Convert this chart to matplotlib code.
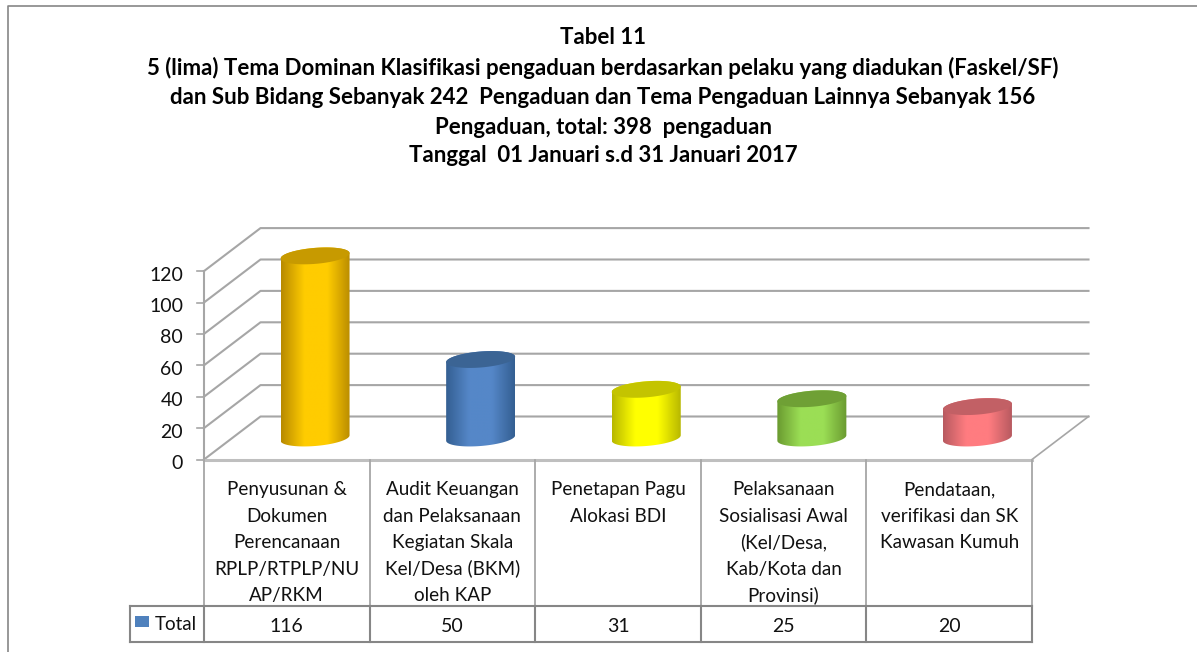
import numpy as np
import matplotlib
matplotlib.use('Agg')
import matplotlib.pyplot as plt
from matplotlib.colors import LinearSegmentedColormap
from matplotlib.patches import Polygon, Rectangle

title_lines = [
    'Tabel 11',
    '5 (lima) Tema Dominan Klasifikasi pengaduan berdasarkan pelaku yang diadukan (Faskel/SF)',
    'dan Sub Bidang Sebanyak 242  Pengaduan dan Tema Pengaduan Lainnya Sebanyak 156',
    'Pengaduan, total: 398  pengaduan',
    'Tanggal  01 Januari s.d 31 Januari 2017',
]
categories = [
    'Penyusunan &\nDokumen\nPerencanaan\nRPLP/RTPLP/NU\nAP/RKM',
    'Audit Keuangan\ndan Pelaksanaan\nKegiatan Skala\nKel/Desa (BKM)\noleh KAP',
    'Penetapan Pagu\nAlokasi BDI',
    'Pelaksanaan\nSosialisasi Awal\n(Kel/Desa,\nKab/Kota dan\nProvinsi)',
    'Pendataan,\nverifikasi dan SK\nKawasan Kumuh',
]
values = [116, 50, 31, 25, 20]
y_ticks = [0, 20, 40, 60, 80, 100, 120]
# dark edge, mid, top face
colors = [
    ('#B88A00', '#FFCC00', '#C79A00'),
    ('#345F92', '#5587C8', '#3B6494'),
    ('#B8B800', '#FFFF00', '#C4C400'),
    ('#6A9A30', '#9BDE55', '#6FA035'),
    ('#B85A60', '#FF7C80', '#C26065'),
]

W, H = 1197, 652
X0, UX = 204.0, 165.6   # pixel of category 0, pixels per category
Y0, UY = 459.5, 1.57    # pixel of value 0, pixels per value
DX = 56.5 / UX          # depth of the 3d box
DY = 43.0 / UY
GRID = '#A6A6A6'
TEXT = '#111111'
LINE = '#868686'

plt.rcParams['font.family'] = ['Lato', 'DejaVu Sans']

fig = plt.figure(figsize=(W / 100, H / 100), dpi=100)
ax = fig.add_axes([0, 0, 1, 1])


def px(dx):
    return dx / UX


def py(dy):
    return dy / UY


# outer frame, cut by the right and bottom edge of the image
ax.plot([px(7.5 - X0), px(7.5 - X0), px(W - X0)],
        [py(Y0 - H), py(Y0 - 6), py(Y0 - 6)],
        color=LINE, lw=1.2, clip_on=False)

# walls
for t in y_ticks:
    ax.plot([0, DX, 5 + DX], [t, t + DY, t + DY], color=GRID, lw=1.5, zorder=1)
    ax.plot([px(-7), 0], [t, t], color=GRID, lw=1.2, zorder=1)
    ax.text(px(-21), t - py(4), str(t), ha='right', va='center', fontsize=14, color=TEXT)
ax.plot([0, 0], [0, 120], color=GRID, lw=1.5, zorder=1)
ax.plot([5, 5 + DX], [0, DY], color=GRID, lw=1.2, zorder=1)
ax.plot([0, 5], [0, 0], color='#BFBFBF', lw=2.2, zorder=1)

# cylinders
half_w = px(34.5)
b = py(8)
tilt = py(2.7) / half_w
t = np.linspace(0, 2 * np.pi, 100)
for i, (v, (dark, mid, top)) in enumerate(zip(values, colors)):
    cx = i + 0.5 + DX / 2
    base = DY / 2
    xs = half_w * np.cos(t)
    low = b * np.sin(t) + tilt * xs
    # body outline: lower half of the base ellipse, then upper half of the top one
    t1 = np.linspace(np.pi, 2 * np.pi, 50)
    t2 = np.linspace(0, np.pi, 50)
    bx = np.r_[cx + half_w * np.cos(t1), cx + half_w * np.cos(t2)]
    by = np.r_[base + b * np.sin(t1) + tilt * half_w * np.cos(t1),
               base + v + b * np.sin(t2) + tilt * half_w * np.cos(t2)]
    body = Polygon(np.c_[bx, by], closed=True, fc='none', ec='none', zorder=3)
    ax.add_patch(body)
    cmap = LinearSegmentedColormap.from_list('c%d' % i, [dark, mid, mid, dark])
    im = ax.imshow(np.linspace(0, 1, 128).reshape(1, -1), cmap=cmap, aspect='auto',
                   extent=(cx - half_w, cx + half_w, base - 3 * b, base + v + 3 * b),
                   zorder=3, interpolation='bilinear')
    im.set_clip_path(body)
    ax.fill(cx + xs, base + v + low, color=top, lw=0, zorder=4)

# imshow moves the limits, so they are set after it
ax.set_xlim(-X0 / UX, (W - X0) / UX)
ax.set_ylim(-(H - Y0) / UY, Y0 / UY)
ax.axis('off')

# data table
table_y0, table_y1 = py(Y0 - 606), py(Y0 - 642)
for i in range(6):
    ax.plot([i, i], [0, table_y0], color=GRID, lw=1.3, zorder=2)
    ax.plot([i, i], [table_y0, table_y1], color=LINE, lw=1.5, zorder=2)
ax.plot([px(130 - X0), 5], [table_y0, table_y0], color=LINE, lw=1.5)
ax.plot([px(130 - X0), 5], [table_y1, table_y1], color=LINE, lw=1.5)
ax.plot([px(130 - X0), px(130 - X0)], [table_y0, table_y1], color=LINE, lw=1.5)
for i, (name, v) in enumerate(zip(categories, values)):
    # one text per line, so the baselines sit at a fixed distance
    for j, part in enumerate(name.split('\n')):
        ax.text(i + 0.5, py(Y0 - 495 - 26.5 * j), part, ha='center', va='baseline',
                fontsize=13.6, color=TEXT)
    ax.text(i + 0.5, (table_y0 + table_y1) / 2 - py(2), str(v), ha='center', va='center',
            fontsize=14, color=TEXT)
ax.add_patch(Rectangle((px(135 - X0), py(Y0 - 627)), px(14), py(11), fc='#4F81BD', ec='none'))
ax.text(px(155 - X0), (table_y0 + table_y1) / 2 - py(1), 'Total', ha='left', va='center',
        fontsize=13.5, color=TEXT)

# title
for line, y_px in zip(title_lines, [38, 68, 98, 127, 155]):
    ax.text(px(603 - X0), py(Y0 - y_px), line, ha='center', va='center',
            fontsize=16, fontweight='bold', color='#000000')

fig.savefig('out.png', dpi=100)
